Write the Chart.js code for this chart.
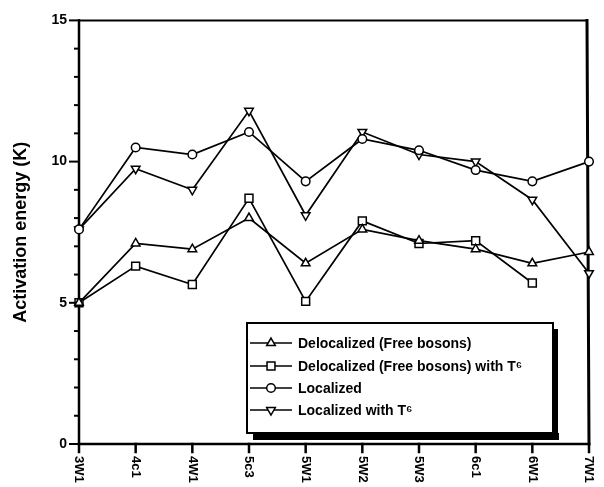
<!DOCTYPE html>
<html>
<head>
<meta charset="utf-8">
<script src="https://cdn.jsdelivr.net/npm/chart.js@4.4.0/dist/chart.umd.min.js"></script>
<style>
  html, body { margin: 0; padding: 0; background: #fff; }
  #chart { display: block; }
</style>
</head>
<body>
<canvas id="chart" width="604" height="487"></canvas>
<script>
// Sample names along the x axis
const categories = ['3W1', '4c1', '4W1', '5c3', '5W1', '5W2', '5W3', '6c1', '6W1', '7W1'];

// Activation energies (K)
const delocalized   = [5.0, 7.1, 6.9, 8.0, 6.4, 7.6, 7.2, 6.9, 6.4, 6.8];
const delocalizedT6 = [5.0, 6.3, 5.65, 8.7, 5.05, 7.9, 7.1, 7.2, 5.7, null];
const localized     = [7.6, 10.5, 10.25, 11.05, 9.3, 10.8, 10.4, 9.7, 9.3, 10.0];
const localizedT6   = [7.6, 9.75, 9.0, 11.8, 8.1, 11.05, 10.25, 10.0, 8.65, 6.05];

const yMajorTicks = [0, 5, 10, 15];

const FONT = 'Arial, "Liberation Sans", Helvetica, sans-serif';

function makeSet(label, data, style, radius, rotation) {
    return {
        label: label,
        data: data,
        borderColor: '#000',
        borderWidth: 1.7,
        pointStyle: style,
        pointRadius: radius,
        pointRotation: rotation || 0,
        pointBackgroundColor: '#fff',
        pointBorderColor: '#000',
        pointBorderWidth: 1.5,
        tension: 0,
        spanGaps: false,
        clip: false
    };
}

// frame, tick marks and rotated x labels
const axesPlugin = {
    id: 'axesPlugin',
    beforeDatasetsDraw(chart) {
        const ctx = chart.ctx;
        const a = chart.chartArea;
        const xs = chart.scales.x;
        const ys = chart.scales.y;
        ctx.save();
        ctx.strokeStyle = '#000';
        ctx.lineCap = 'square';

        // frame
        ctx.lineWidth = 2;
        ctx.beginPath();
        ctx.moveTo(a.left, a.top);
        ctx.lineTo(a.right - 2, a.top);
        ctx.stroke();
        ctx.lineWidth = 2.5;
        ctx.beginPath();
        ctx.moveTo(a.left, a.top);
        ctx.lineTo(a.left, a.bottom);
        ctx.lineTo(a.right, a.bottom);
        ctx.stroke();
        ctx.lineWidth = 3;
        ctx.beginPath();
        ctx.moveTo(a.right - 2, a.top);
        ctx.lineTo(a.right, a.bottom);
        ctx.stroke();

        // y ticks (minor every 1, major every 5)
        ctx.lineWidth = 2;
        for (let v = ys.min; v <= ys.max; v++) {
            const y = ys.getPixelForValue(v);
            const len = yMajorTicks.includes(v) ? 9 : 4;
            ctx.beginPath();
            ctx.moveTo(a.left - len, y);
            ctx.lineTo(a.left, y);
            ctx.stroke();
        }

        // x ticks + labels
        ctx.lineWidth = 2.5;
        ctx.fillStyle = '#000';
        ctx.font = 'bold 13px ' + FONT;
        ctx.textAlign = 'left';
        ctx.textBaseline = 'middle';
        categories.forEach((c, i) => {
            const x = xs.getPixelForTick(i);
            ctx.beginPath();
            ctx.moveTo(x, a.bottom);
            ctx.lineTo(x, a.bottom + 8);
            ctx.stroke();
            ctx.save();
            ctx.translate(x, a.bottom + 12);
            ctx.rotate(Math.PI / 2);
            ctx.fillText(c, 0, 0);
            ctx.restore();
        });
        ctx.restore();
    }
};

// boxed legend with drop shadow inside the plot
const legendPlugin = {
    id: 'legendPlugin',
    afterDatasetsDraw(chart) {
        const ctx = chart.ctx;
        const box = { x: 247, y: 323, w: 306, h: 110 };
        const rows = [343, 366, 388, 410];
        ctx.save();
        // shadow
        ctx.fillStyle = '#000';
        ctx.fillRect(box.x + 6, box.y + box.h, box.w, 7);
        ctx.fillRect(box.x + box.w, box.y + 6, 5, box.h + 1);
        ctx.fillStyle = '#fff';
        ctx.fillRect(box.x, box.y, box.w, box.h);
        ctx.strokeStyle = '#000';
        ctx.lineWidth = 2;
        ctx.strokeRect(box.x, box.y, box.w, box.h);

        chart.data.datasets.forEach((ds, i) => {
            const y = rows[i];
            ctx.strokeStyle = '#000';
            ctx.lineWidth = 1.7;
            ctx.beginPath();
            ctx.moveTo(box.x + 3, y);
            ctx.lineTo(box.x + 45, y);
            ctx.stroke();
            ctx.fillStyle = '#fff';
            ctx.strokeStyle = '#000';
            ctx.lineWidth = 1.5;
            Chart.helpers.drawPoint(ctx, {
                pointStyle: ds.pointStyle,
                rotation: ds.pointRotation,
                radius: ds.pointRadius,
                borderWidth: 1.5
            }, box.x + 24, y);
            ctx.fillStyle = '#000';
            ctx.font = 'bold 14px ' + FONT;
            ctx.textAlign = 'left';
            ctx.textBaseline = 'middle';
            ctx.fillText(ds.label, box.x + 51, y + 1);
        });
        ctx.restore();
    }
};

new Chart(document.getElementById('chart'), {
    type: 'line',
    data: {
        labels: categories,
        datasets: [
            makeSet('Delocalized (Free bosons)', delocalized, 'triangle', 5),
            makeSet('Delocalized (Free bosons) with T\u2076', delocalizedT6, 'rect', 5.6),
            makeSet('Localized', localized, 'circle', 4.3),
            makeSet('Localized with T\u2076', localizedT6, 'triangle', 5, 180)
        ]
    },
    options: {
        responsive: false,
        animation: false,
        devicePixelRatio: 1,
        layout: { padding: { left: 0, top: 16, right: 15, bottom: 0 } },
        plugins: {
            legend: { display: false },
            tooltip: { enabled: false }
        },
        scales: {
            x: {
                type: 'category',
                offset: false,
                grid: { display: false, drawTicks: false },
                border: { display: false },
                ticks: { display: false },
                afterFit(scale) { scale.height = 43; }
            },
            y: {
                min: 0,
                max: 15,
                grid: { display: false, drawTicks: false },
                border: { display: false },
                ticks: {
                    stepSize: 1,
                    autoSkip: false,
                    padding: 12,
                    color: '#000',
                    font: { family: FONT, size: 14, weight: 'bold' },
                    callback: v => (yMajorTicks.includes(v) ? v : '')
                },
                title: {
                    display: true,
                    text: 'Activation energy (K)',
                    color: '#000',
                    font: { family: FONT, size: 18, weight: 'bold' },
                    padding: { top: 10, bottom: 0 }
                },
                afterFit(scale) { scale.width = 79; }
            }
        }
    },
    plugins: [axesPlugin, legendPlugin]
});
</script>
</body>
</html>
